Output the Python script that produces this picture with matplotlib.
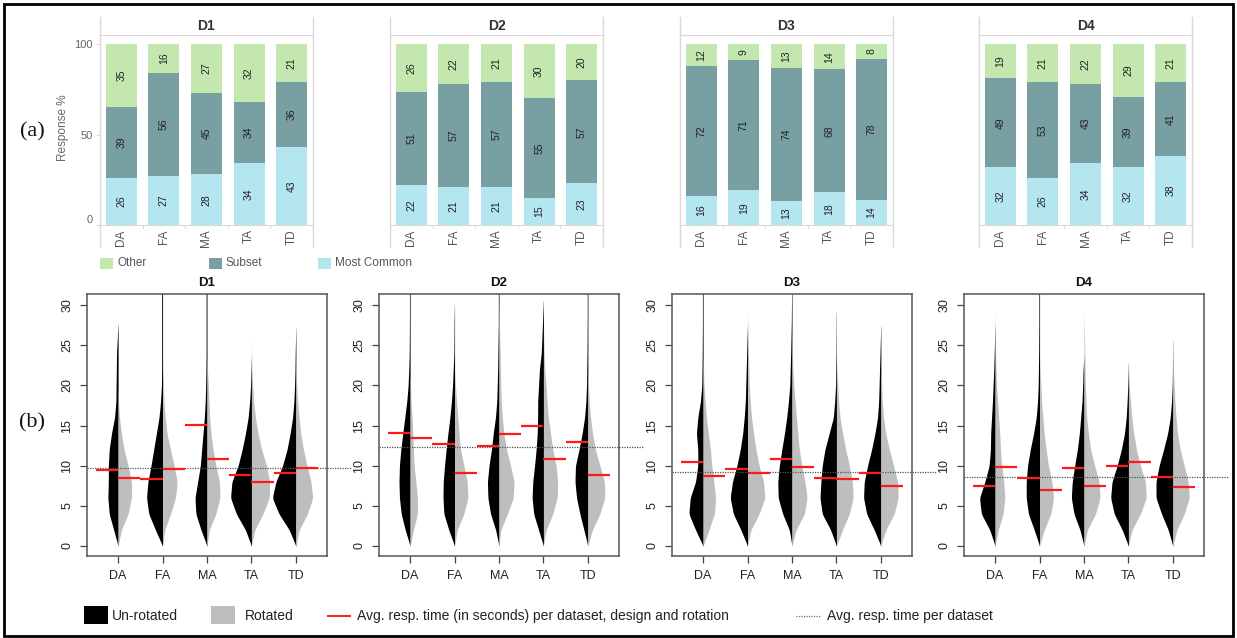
import numpy as np
import matplotlib
matplotlib.use("Agg")
import matplotlib.pyplot as plt
from matplotlib.lines import Line2D
from matplotlib.patches import Rectangle
import matplotlib.transforms as mtransforms

plt.rcParams['font.family'] = ['Liberation Sans', 'DejaVu Sans']

# ---------------- data ----------------
datasets = ["D1", "D2", "D3", "D4"]
designs = ["DA", "FA", "MA", "TA", "TD"]
seg_names = ["Most Common", "Subset", "Other"]

most_common = [[26, 27, 28, 34, 43],
               [22, 21, 21, 15, 23],
               [16, 19, 13, 18, 14],
               [32, 26, 34, 32, 38]]
subset = [[39, 56, 45, 34, 36],
          [51, 57, 57, 55, 57],
          [72, 71, 74, 68, 78],
          [49, 53, 43, 39, 41]]
other = [[35, 16, 27, 32, 21],
         [26, 22, 21, 30, 20],
         [12, 9, 13, 14, 8],
         [19, 21, 22, 29, 21]]

# response-time bean profiles: half-width read at these response times (s)
knots = [0, 2, 4, 6, 8, 10, 12, 14, 16, 18, 20, 22, 24, 28, 31]
unrot_D1 = [[0, .10, .20, .23, .22, .22, .20, .15, .08, .05, .045, .04, .035, 0, 0],
            [0, .16, .31, .36, .33, .26, .20, .14, .08, .045, .025, .02, .02, .02, .02],
            [0, .135, .25, .27, .21, .15, .12, .09, .06, .04, .03, .025, .02, .02, .02],
            [0, .135, .34, .47, .44, .30, .21, .135, .075, .04, .02, .01, 0, 0, 0],
            [0, .15, .38, .53, .45, .30, .20, .13, .075, .045, .03, .02, .015, 0, 0]]
rot_D1 = [[0, .075, .225, .30, .30, .225, .135, .075, .03, .01, 0, 0, 0, 0, 0],
          [0, .05, .18, .29, .33, .26, .18, .10, .06, .03, .02, .01, 0, 0, 0],
          [0, .05, .20, .29, .28, .20, .135, .09, .06, .045, .03, .01, 0, 0, 0],
          [0, .075, .26, .40, .41, .34, .23, .15, .09, .05, .03, .01, .005, 0, 0],
          [0, .075, .26, .38, .34, .25, .17, .11, .07, .04, .02, .01, 0, 0, 0]]
unrot_D2 = [[0, .11, .20, .24, .25, .24, .21, .165, .12, .075, .045, .03, .02, .015, .015],
            [0, .13, .24, .26, .255, .225, .19, .15, .105, .07, .045, .03, .015, .01, 0],
            [0, .075, .19, .25, .26, .225, .17, .13, .08, .05, .04, .03, .025, .015, .015],
            [0, .11, .22, .255, .24, .20, .165, .14, .13, .13, .11, .09, .05, .02, 0],
            [0, .09, .18, .255, .29, .28, .20, .13, .075, .045, .03, .025, .02, .015, .015]]
rot_D2 = [[0, .075, .165, .165, .13, .09, .075, .06, .045, .02, .01, 0, 0, 0, 0],
          [0, .06, .21, .30, .285, .21, .135, .10, .075, .045, .02, 0, 0, 0, 0],
          [0, .04, .19, .32, .34, .26, .17, .11, .075, .05, .04, .03, .025, .01, 0],
          [0, .06, .21, .31, .32, .285, .21, .16, .11, .08, .06, .03, .015, 0, 0],
          [0, .10, .27, .38, .375, .27, .17, .105, .06, .03, .015, 0, 0, 0, 0]]
unrot_D3 = [[0, .17, .32, .29, .17, .12, .12, .15, .12, .06, .03, .025, .02, .015, .015],
            [0, .15, .32, .39, .34, .24, .165, .11, .075, .05, .04, .03, .02, 0, 0],
            [0, .06, .21, .31, .32, .285, .23, .17, .12, .08, .05, .04, .03, .015, .01],
            [0, .13, .32, .37, .35, .32, .26, .165, .07, .04, .02, .015, .01, .005, 0],
            [0, .15, .32, .39, .375, .30, .21, .135, .075, .05, .04, .03, .02, 0, 0]]
rot_D3 = [[0, .13, .255, .28, .24, .195, .165, .12, .075, .045, .02, .01, 0, 0, 0],
          [0, .075, .26, .39, .36, .26, .19, .135, .09, .06, .04, .03, .02, .005, 0],
          [0, .09, .28, .34, .29, .22, .165, .13, .10, .07, .04, .02, .01, 0, 0],
          [0, .135, .29, .375, .36, .29, .21, .14, .08, .05, .03, .01, 0, 0, 0],
          [0, .11, .30, .39, .375, .285, .19, .11, .06, .03, .02, 0, 0, 0, 0]]
unrot_D4 = [[0, .12, .31, .35, .23, .135, .105, .10, .08, .06, .045, .03, .02, 0, 0],
            [0, .12, .25, .30, .30, .27, .21, .135, .075, .045, .03, .025, .02, .015, .015],
            [0, .09, .225, .285, .265, .21, .15, .105, .075, .045, .03, .02, 0, 0, 0],
            [0, .14, .32, .40, .37, .255, .16, .09, .05, .03, .015, .005, 0, 0, 0],
            [0, .105, .255, .38, .38, .31, .21, .12, .06, .03, .015, .01, .005, 0, 0]]
rot_D4 = [[0, .07, .18, .22, .195, .15, .12, .105, .08, .06, .03, .02, .01, .005, 0],
          [0, .105, .255, .315, .28, .20, .15, .105, .075, .045, .03, .01, 0, 0, 0],
          [0, .075, .26, .36, .34, .24, .15, .10, .06, .045, .03, .025, .02, .005, 0],
          [0, .08, .27, .40, .38, .27, .18, .12, .075, .045, .02, .005, 0, 0, 0],
          [0, .09, .255, .37, .345, .255, .165, .105, .07, .045, .03, .01, 0, 0, 0]]

mean_unrot = [[9.5, 8.3, 15.1, 8.9, 9.1],
              [14.05, 12.75, 12.5, 15.0, 12.9],
              [10.5, 9.65, 10.9, 8.5, 9.15],
              [7.45, 8.5, 9.7, 9.95, 8.6]]
mean_rot = [[8.5, 9.55, 10.8, 8.0, 9.75],
            [13.4, 9.1, 13.95, 10.9, 8.85],
            [8.7, 9.15, 9.8, 8.3, 7.5],
            [9.85, 7.0, 7.5, 10.5, 7.35]]
mean_dataset = [9.7, 12.3, 9.25, 8.6]

unrot_all = [unrot_D1, unrot_D2, unrot_D3, unrot_D4]
rot_all = [rot_D1, rot_D2, rot_D3, rot_D4]

# ---------------- layout helpers ----------------
W, H = 1237, 638
fig = plt.figure(figsize=(W / 100, H / 100), dpi=100)


def rect(x0, y0, x1, y1):
    return [x0 / W, 1 - y1 / H, (x1 - x0) / W, (y1 - y0) / H]


def fx(x):
    return x / W


def fy(y):
    return 1 - y / H


# outer border
fig.add_artist(Rectangle((fx(4), fy(636)), fx(1233) - fx(4), fy(4) - fy(636),
                         transform=fig.transFigure, fill=False, lw=2, ec='black'))

col_other = '#c3e7ae'
col_subset = '#789fa2'
col_common = '#b4e6ef'
grid_col = '#d9d9d9'

# ---------------- (a) stacked bars ----------------
top_x0 = [100, 390, 680, 979]
pw = 213
for i, ds in enumerate(datasets):
    x0 = top_x0[i]
    ax = fig.add_axes(rect(x0, 35, x0 + pw, 225))
    mc = np.array(most_common[i], float)
    sb = np.array(subset[i], float)
    ot = np.array(other[i], float)
    tot = mc + sb + ot
    h1, h2, h3 = mc / tot * 100, sb / tot * 100, ot / tot * 100
    xs = np.arange(len(designs))
    bw = 0.73
    ax.bar(xs, h1, bw, color=col_common, edgecolor='none')
    ax.bar(xs, h2, bw, bottom=h1, color=col_subset, edgecolor='none')
    ax.bar(xs, h3, bw, bottom=h1 + h2, color=col_other, edgecolor='none')
    for j in range(len(designs)):
        for val, b, hh in [(most_common[i][j], 0, h1[j]),
                           (subset[i][j], h1[j], h2[j]),
                           (other[i][j], h1[j] + h2[j], h3[j])]:
            ax.text(xs[j], b + hh / 2, str(val), rotation=90, ha='center',
                    va='center', fontsize=7.5, color='#222222')
    ax.set_xlim(-0.5, 4.5)
    ax.set_ylim(0, 105)
    for s in ['left', 'right']:
        ax.spines[s].set_visible(False)
    ax.spines['top'].set_color(grid_col)
    ax.spines['bottom'].set_color(grid_col)
    ax.set_xticks(xs)
    ax.set_xticklabels(designs, rotation=90, fontsize=8.5, color='#555555')
    ax.set_xticks([0.5, 1.5, 2.5, 3.5], minor=True)
    ax.tick_params(axis='x', which='major', length=0, pad=3)
    ax.tick_params(axis='x', which='minor', length=3, color=grid_col)
    if i == 0:
        ax.set_yticks([0, 50, 100])
        ax.set_yticklabels(['0', '50', '100'], fontsize=8, color='#666666')
        ax.get_yticklabels()[0].set_va('bottom')
        ax.tick_params(axis='y', length=3, color=grid_col, pad=2)
    else:
        ax.set_yticks([])
    fig.text(fx(x0 + pw / 2), fy(26), ds, ha='center', va='center',
             fontsize=10, fontweight='bold', color='#333333')
    for xe in (x0, x0 + pw):
        fig.add_artist(Line2D([fx(xe), fx(xe)], [fy(17), fy(247)],
                              transform=fig.transFigure, color=grid_col, lw=1))

fig.text(fx(63), fy(128), 'Response %', rotation=90, ha='center', va='center',
         fontsize=8.5, color='#666666')

# top legend
for (sx, txt, c) in [(100, 'Other', col_other), (209, 'Subset', col_subset),
                     (318, 'Most Common', col_common)]:
    fig.add_artist(Rectangle((fx(sx), fy(269)), fx(13), fy(258) - fy(269),
                             transform=fig.transFigure, color=c, lw=0))
    fig.text(fx(sx + 17), fy(263.5), txt, ha='left', va='center',
             fontsize=8.5, color='#555555')

# panel letters
for txt, yy in [('(a)', 132), ('(b)', 423)]:
    fig.text(fx(32), fy(yy), txt, ha='center', va='center', fontsize=16,
             family=['Liberation Serif', 'DejaVu Serif'], color='#111111')

# ---------------- (b) bean plots ----------------
bot_x0 = [87, 379, 672, 964]
bw_px = 240
grey = '#bebebe'
yy = np.arange(0, 31.6, 0.05)
win = np.hanning(25)
win /= win.sum()


def profile(p):
    w = np.interp(yy, knots, p)
    ws = np.convolve(np.pad(w, 12, mode='edge'), win, mode='valid')
    ws[0] = 0
    return np.clip(ws, 0, None)


for i, ds in enumerate(datasets):
    x0 = bot_x0[i]
    ax = fig.add_axes(rect(x0, 294, x0 + bw_px, 556))
    ax.set_xlim(0.3, 5.7)
    ax.set_ylim(-1.25, 31.4)
    for j in range(len(designs)):
        pos = j + 1
        wl = profile(unrot_all[i][j])
        wr = profile(rot_all[i][j])
        ax.fill_betweenx(yy, pos - wl, pos, where=wl > 0.003, color='black',
                         lw=0, interpolate=True)
        ax.fill_betweenx(yy, pos, pos + wr, where=wr > 0.003, color=grey,
                         lw=0, interpolate=True)
        ax.hlines(mean_unrot[i][j], pos - 0.5, pos, color='#ff1a1a', lw=1.6, zorder=5)
        ax.hlines(mean_rot[i][j], pos, pos + 0.5, color='#ff1a1a', lw=1.6, zorder=5)
    trans = mtransforms.blended_transform_factory(ax.transAxes, ax.transData)
    ax.plot([0, 1.105], [mean_dataset[i]] * 2, transform=trans, ls=(0, (1, 1)),
            color='#555555', lw=0.9, clip_on=False, zorder=4)
    ax.set_xticks(range(1, 6))
    ax.set_xticklabels(designs, fontsize=9, color='#222222')
    ax.set_yticks([0, 5, 10, 15, 20, 25, 30])
    ax.set_yticklabels(['0', '5', '10', '15', '20', '25', '30'], rotation=90,
                       va='center', fontsize=9, color='#222222')
    ax.tick_params(length=5, width=0.9, color='#444444', pad=5)
    for s in ax.spines.values():
        s.set_color('#555555')
        s.set_linewidth(1.1)
    fig.text(fx(x0 + bw_px / 2), fy(283), ds, ha='center', va='center',
             fontsize=9.5, fontweight='bold', color='#111111')

# bottom legend
fig.add_artist(Rectangle((fx(84), fy(624)), fx(24), fy(606) - fy(624),
                         transform=fig.transFigure, color='black', lw=0))
fig.text(fx(112), fy(616), 'Un-rotated', ha='left', va='center', fontsize=10,
         color='#222222')
fig.add_artist(Rectangle((fx(211), fy(624)), fx(24), fy(606) - fy(624),
                         transform=fig.transFigure, color=grey, lw=0))
fig.text(fx(245), fy(616), 'Rotated', ha='left', va='center', fontsize=10,
         color='#222222')
fig.add_artist(Line2D([fx(328), fx(350)], [fy(616), fy(616)],
                      transform=fig.transFigure, color='#ff1a1a', lw=1.4))
fig.text(fx(357), fy(616), 'Avg. resp. time (in seconds) per dataset, design and rotation',
         ha='left', va='center', fontsize=10, color='#222222')
fig.add_artist(Line2D([fx(796), fx(820)], [fy(616), fy(616)],
                      transform=fig.transFigure, color='#777777', lw=0.9,
                      ls=(0, (1, 1))))
fig.text(fx(827), fy(616), 'Avg. resp. time per dataset', ha='left',
         va='center', fontsize=10, color='#222222')

fig.savefig('out.png', dpi=100)
